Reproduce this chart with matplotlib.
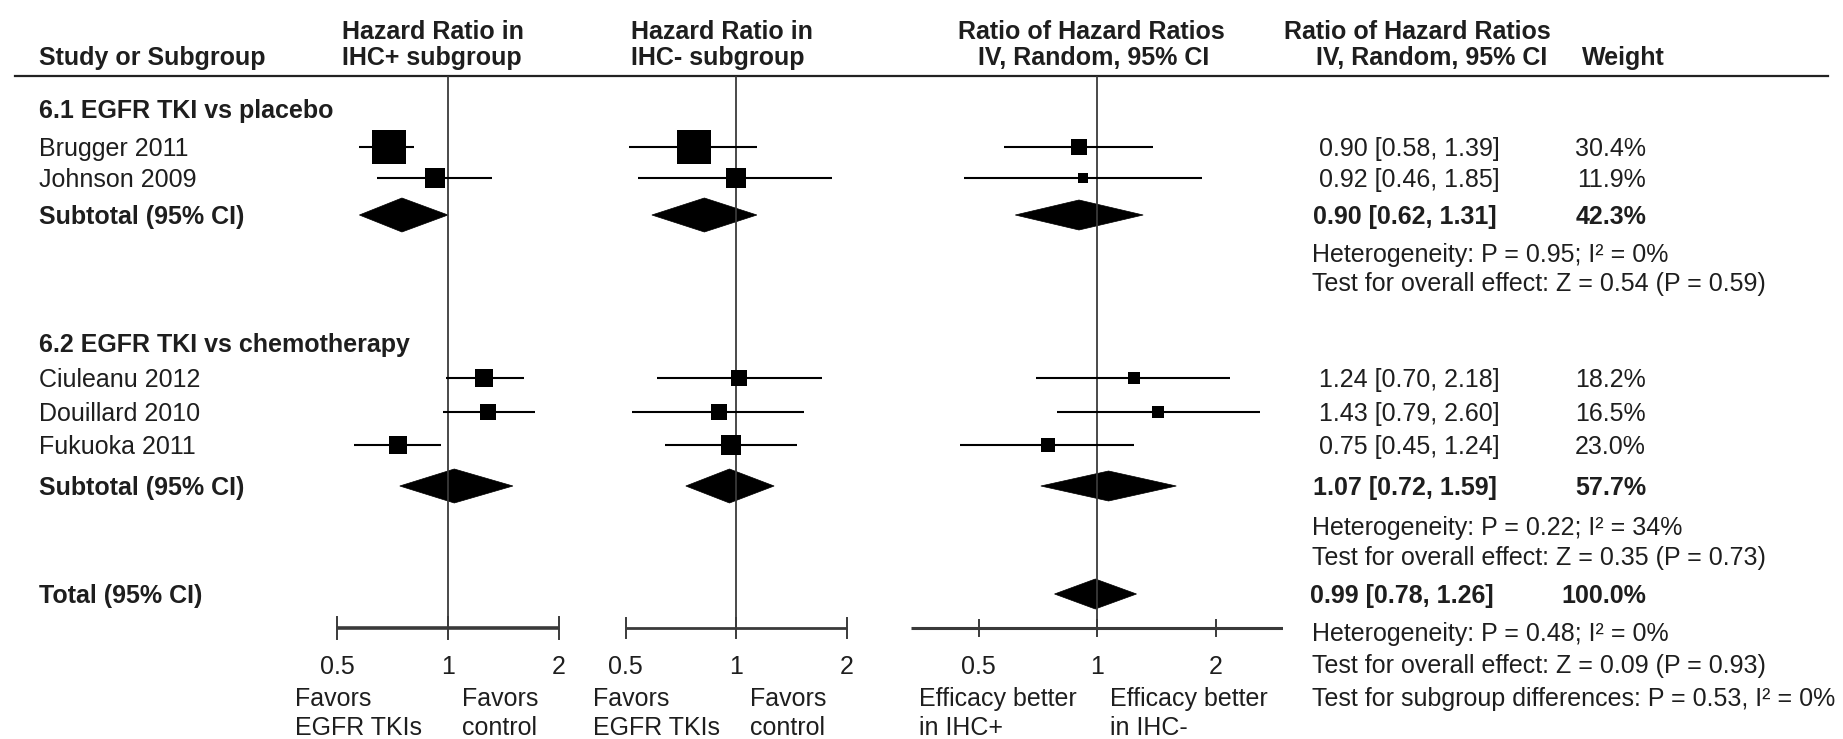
import matplotlib
matplotlib.use('Agg')
import matplotlib.pyplot as plt
from matplotlib.patches import Polygon
import numpy as np

# ---- data ----
groups = ['6.1 EGFR TKI vs placebo', '6.2 EGFR TKI vs chemotherapy']
studies = ['Brugger 2011', 'Johnson 2009', 'Ciuleanu 2012', 'Douillard 2010', 'Fukuoka 2011']

# hazard ratio in IHC+ subgroup
pos_hr = [0.69, 0.92, 1.25, 1.28, 0.73]
pos_lo = [0.575, 0.64, 0.99, 0.97, 0.555]
pos_hi = [0.81, 1.32, 1.61, 1.72, 0.957]
pos_wt = [45.6, 17.7, 13.0, 11.6, 12.2]
pos_sub_hr = [0.75, 1.04]
pos_sub_lo = [0.575, 0.74]
pos_sub_hi = [1.00, 1.50]

# hazard ratio in IHC- subgroup
neg_hr = [0.77, 1.00, 1.02, 0.90, 0.97]
neg_lo = [0.51, 0.54, 0.61, 0.52, 0.64]
neg_hi = [1.14, 1.83, 1.71, 1.53, 1.47]
neg_wt = [46.3, 16.0, 10.9, 9.6, 17.1]
neg_sub_hr = [0.82, 0.96]
neg_sub_lo = [0.59, 0.73]
neg_sub_hi = [1.14, 1.27]

# ratio of hazard ratios, IV random
rhr = [0.90, 0.92, 1.24, 1.43, 0.75]
rhr_lo = [0.58, 0.46, 0.70, 0.79, 0.45]
rhr_hi = [1.39, 1.85, 2.18, 2.60, 1.24]
weight = [30.4, 11.9, 18.2, 16.5, 23.0]
sub_rhr = [0.90, 1.07]
sub_lo = [0.62, 0.72]
sub_hi = [1.31, 1.59]
sub_weight = [42.3, 57.7]
total_rhr, total_lo, total_hi, total_weight = 0.99, 0.78, 1.26, 100.0

het = ['Heterogeneity: P = 0.95; I\u00b2 = 0%', 'Heterogeneity: P = 0.22; I\u00b2 = 34%']
overall = ['Test for overall effect: Z = 0.54 (P = 0.59)',
           'Test for overall effect: Z = 0.35 (P = 0.73)']
total_notes = ['Heterogeneity: P = 0.48; I\u00b2 = 0%',
               'Test for overall effect: Z = 0.09 (P = 0.93)',
               'Test for subgroup differences: P = 0.53, I\u00b2 = 0%']

ticks = [0.5, 1, 2]
tick_labels = ['0.5', '1', '2']
favor_labels = ['Favors\nEGFR TKIs', 'Favors\ncontrol',
                'Favors\nEGFR TKIs', 'Favors\ncontrol',
                'Efficacy better\nin IHC+', 'Efficacy better\nin IHC-']

# ---- layout (pixels, y from top) ----
W, H = 1843, 739
STUDY_Y = [147, 178, 378, 412, 445]
SUB_Y = [215, 486]
GROUP_Y = [109, 343]
HET_Y = [253, 526]
TEST_Y = [282, 556]
TOTAL_Y = 594
TOTAL_NOTE_Y = [632, 664, 697]
HEAD_Y = [30, 56]
RULE_Y = 76
AXIS_Y = 628
TICK_Y = 665
FAVOR_Y = [697, 726]
FAVOR_X = [295, 462, 593, 750, 919, 1110]
LEFT_X = 39
STAT_X = 1312
WEIGHT_X = 1646

INK = '#1e1e1e'
GREY = '#3a3a3a'
FAM = 'Liberation Sans'
FS = 18

BOX = [(-0.5, -0.5), (0.5, -0.5), (0.5, 0.5), (-0.5, 0.5), (-0.5, -0.5)]

fig = plt.figure(figsize=(W / 100, H / 100), dpi=100)
bg = fig.add_axes([0, 0, 1, 1])
bg.set_xlim(0, W)
bg.set_ylim(H, 0)
bg.axis('off')


def put(x, y, s, weight='normal', ha='left', ax=None, size=FS):
    # y is the middle of the capital letters
    (ax or bg).text(x, y + 0.497 * size, s, fontsize=size, fontweight=weight, ha=ha,
                    va='baseline', color=INK, family=FAM)


def panel(center, octave, lim, hr, lo, hi, wt, box_k, s_hr, s_lo, s_hi,
          dh, tick_h, axis_lw, full_axis=False, total=None):
    left = center + octave * np.log2(lim[0])
    right = center + octave * np.log2(lim[1])
    ax = fig.add_axes([left / W, 0, (right - left) / W, 1])
    ax.set_xscale('log')
    ax.set_xlim(lim)
    ax.set_ylim(H, 0)
    ax.axis('off')
    ax.plot([1, 1], [RULE_Y + 1, AXIS_Y], color=GREY, lw=1.3)
    for y, m, l, h, w in zip(STUDY_Y, hr, lo, hi, wt):
        ax.plot([l, h], [y, y], color='k', lw=1.5, solid_capstyle='butt')
        ms = np.sqrt(w * box_k) * 0.72
        ax.plot([m], [y], marker=BOX, ms=ms, color='k', mew=0, ls='none')
    diamonds = list(zip(SUB_Y, s_hr, s_lo, s_hi))
    if total is not None:
        diamonds.append((TOTAL_Y,) + tuple(total))
    for y, m, l, h in diamonds:
        ax.add_patch(Polygon([(l, y), (m, y - dh), (h, y), (m, y + dh)],
                             closed=True, fc='k', ec='k', lw=0.5))
    xa = lim if full_axis else (ticks[0], ticks[-1])
    ax.plot(xa, [AXIS_Y, AXIS_Y], color=GREY, lw=axis_lw, solid_capstyle='butt')
    for t, lab in zip(ticks, tick_labels):
        ax.plot([t, t], [AXIS_Y - tick_h, AXIS_Y + tick_h], color=GREY, lw=1.4)
        put(t, TICK_Y, lab, ha='center', ax=ax)
    return ax


panel(448, 111, (0.4, 2.6), pos_hr, pos_lo, pos_hi, pos_wt, 24.9,
      pos_sub_hr, pos_sub_lo, pos_sub_hi, dh=17, tick_h=11, axis_lw=2.6)
panel(736, 110.5, (0.4, 2.6), neg_hr, neg_lo, neg_hi, neg_wt, 25.0,
      neg_sub_hr, neg_sub_lo, neg_sub_hi, dh=17, tick_h=10, axis_lw=2.0)
panel(1097, 118.5, (0.337, 2.97), rhr, rhr_lo, rhr_hi, weight, 8.8,
      sub_rhr, sub_lo, sub_hi, dh=15, tick_h=8, axis_lw=2.2, full_axis=True,
      total=(total_rhr, total_lo, total_hi))

# ---- header ----
put(LEFT_X, HEAD_Y[1], 'Study or Subgroup', weight='bold')
put(342, HEAD_Y[0], 'Hazard Ratio in', weight='bold')
put(342, HEAD_Y[1], 'IHC+ subgroup', weight='bold')
put(631, HEAD_Y[0], 'Hazard Ratio in', weight='bold')
put(631, HEAD_Y[1], 'IHC- subgroup', weight='bold')
put(1091, HEAD_Y[0], 'Ratio of Hazard Ratios', weight='bold', ha='center')
put(1094, HEAD_Y[1], 'IV, Random, 95% CI', weight='bold', ha='center')
put(1284, HEAD_Y[0], 'Ratio of Hazard Ratios', weight='bold')
put(1316, HEAD_Y[1], 'IV, Random, 95% CI', weight='bold')
put(1582, HEAD_Y[1], 'Weight', weight='bold')
bg.plot([15, 1828], [RULE_Y, RULE_Y], color='#222222', lw=1.6)

# ---- study / subgroup rows ----
idx = [[0, 1], [2, 3, 4]]
for g in range(2):
    put(LEFT_X, GROUP_Y[g], groups[g], weight='bold')
    for i in idx[g]:
        put(LEFT_X, STUDY_Y[i], studies[i])
        put(STAT_X + 7, STUDY_Y[i], f'{rhr[i]:.2f} [{rhr_lo[i]:.2f}, {rhr_hi[i]:.2f}]')
        put(WEIGHT_X, STUDY_Y[i], f'{weight[i]:.1f}%', ha='right')
    put(LEFT_X, SUB_Y[g], 'Subtotal (95% CI)', weight='bold')
    put(STAT_X + 1, SUB_Y[g], f'{sub_rhr[g]:.2f} [{sub_lo[g]:.2f}, {sub_hi[g]:.2f}]',
        weight='bold')
    put(WEIGHT_X, SUB_Y[g], f'{sub_weight[g]:.1f}%', weight='bold', ha='right')
    put(STAT_X, HET_Y[g], het[g])
    put(STAT_X, TEST_Y[g], overall[g])

put(LEFT_X, TOTAL_Y, 'Total (95% CI)', weight='bold')
put(STAT_X - 2, TOTAL_Y, f'{total_rhr:.2f} [{total_lo:.2f}, {total_hi:.2f}]',
    weight='bold')
put(WEIGHT_X, TOTAL_Y, f'{total_weight:.1f}%', weight='bold', ha='right')
for y, s in zip(TOTAL_NOTE_Y, total_notes):
    put(STAT_X, y, s)

# ---- direction labels under the axes ----
for x, lab in zip(FAVOR_X, favor_labels):
    for y, line in zip(FAVOR_Y, lab.split('\n')):
        put(x, y, line)

fig.savefig('out.png', dpi=100, facecolor='white')
